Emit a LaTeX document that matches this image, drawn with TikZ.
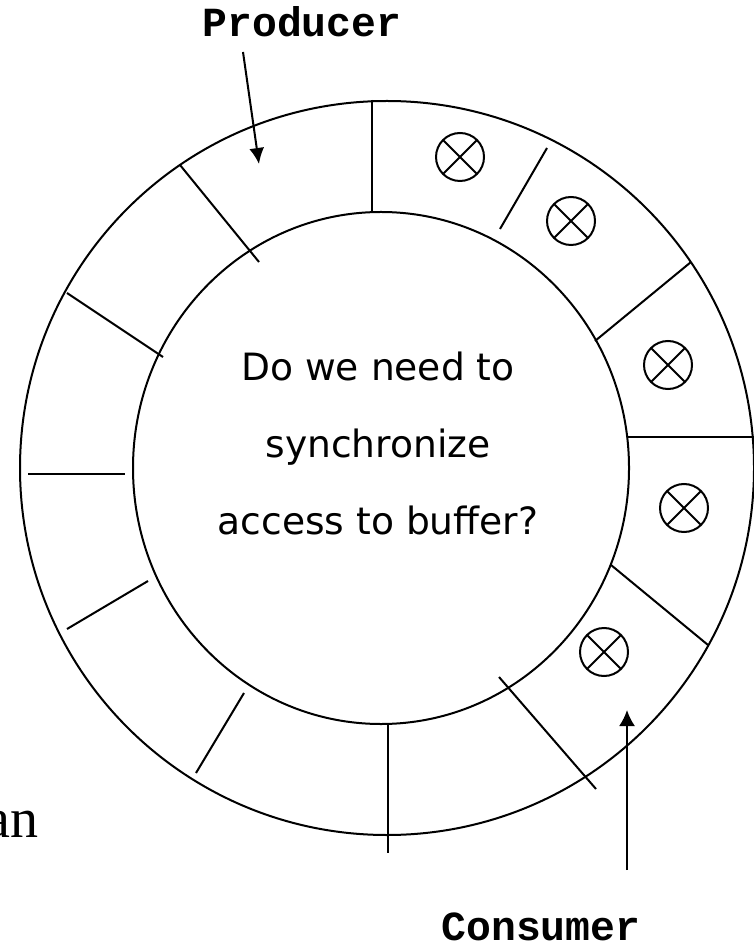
\documentclass[tikz,border=0pt]{standalone}
\usepackage{fontspec}
\setmainfont{Liberation Serif}
\setsansfont{DejaVu Sans}
\setmonofont{Liberation Mono}
\usetikzlibrary{arrows.meta}

\begin{document}
\begin{tikzpicture}[x=0.5pt, y=-0.5pt, line width=1pt]
  \useasboundingbox (0,0) rectangle (753,945);

  % Anillo del buffer
  \draw (387,468) circle (367);
  \draw (381,468) ellipse [x radius=248, y radius=256];

  % Divisiones entre casillas
  \draw (372,100) -- (372,212);
  \draw (180,165) -- (259,262);
  \draw (67,293) -- (163,357);
  \draw (28,474) -- (125,474);
  \draw (148,581) -- (67,629);
  \draw (244,693) -- (196,773);
  \draw (388,724) -- (388,853);
  \draw (499,677) -- (596,789);
  \draw (611,565) -- (708,645);
  \draw (627,437) -- (755,437);
  \draw (595,341) -- (691,262);
  \draw (500,229) -- (547,148);

  % Casillas llenas
  \draw (460,157) circle (24) +(-17,-17) -- +(17,17) +(-17,17) -- +(17,-17);
  \draw (571,221) circle (24) +(-17,-17) -- +(17,17) +(-17,17) -- +(17,-17);
  \draw (668,365) circle (24) +(-17,-17) -- +(17,17) +(-17,17) -- +(17,-17);
  \draw (684,508) circle (24) +(-17,-17) -- +(17,17) +(-17,17) -- +(17,-17);
  \draw (604,652) circle (24) +(-17,-17) -- +(17,17) +(-17,17) -- +(17,-17);

  % Textos
  \node[align=center, font=\sffamily\fontsize{18.8}{38.5}\selectfont] (pregunta) at (378,443)
    {Do we need to\\synchronize\\access to buffer?};
  \node[anchor=base, font=\ttfamily\bfseries\fontsize{20.7}{24}\selectfont] (productor) at (302,37) {Producer};
  \node[anchor=base, font=\ttfamily\bfseries\fontsize{20.7}{24}\selectfont] (consumidor) at (541,940) {Consumer};
  \node[anchor=base east, inner sep=0pt, font=\fontsize{28}{32}\selectfont] (resto) at (39,837) {an};

  % Flechas
  \coordinate (prodA) at (243,52);
  \coordinate (prodB) at (259,164);
  \coordinate (consA) at (627,870);
  \coordinate (consB) at (627,710);
  \draw[-{Latex[length=8pt, width=7.5pt]}] (prodA) -- (prodB);
  \draw[-{Latex[length=8pt, width=8pt]}] (consA) -- (consB);
\end{tikzpicture}
\end{document}
